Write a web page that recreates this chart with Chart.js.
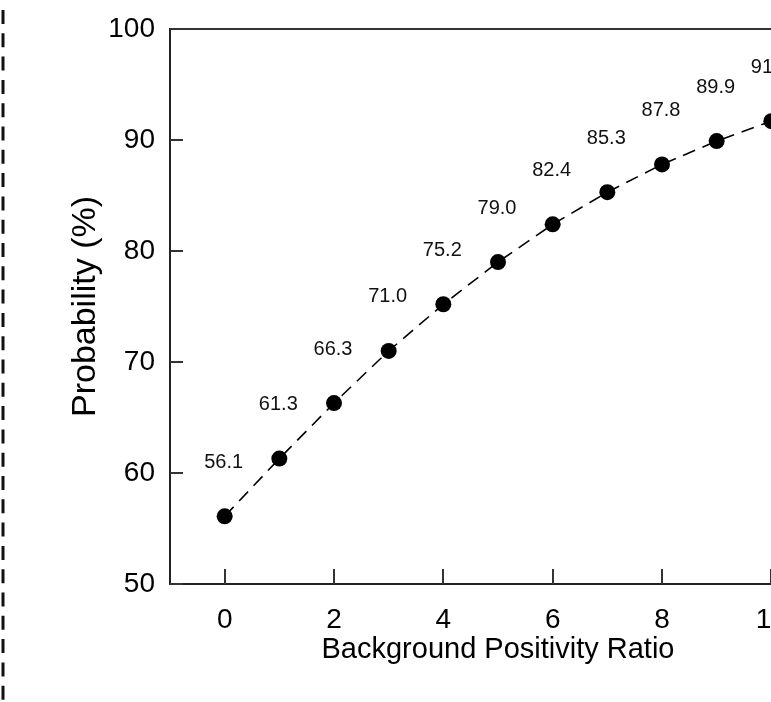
<!DOCTYPE html>
<html>
<head>
<meta charset="utf-8">
<script src="https://cdn.jsdelivr.net/npm/chart.js@4.4.0/dist/chart.umd.min.js"></script>
<style>
  html, body { margin: 0; padding: 0; background: #fff; overflow: hidden; }
  #wrap { position: absolute; left: 0; top: 0; width: 860px; height: 702px; }
</style>
</head>
<body>
<div id="wrap"><canvas id="c" width="860" height="702"></canvas></div>
<script>
const ratios = [0, 1, 2, 3, 4, 5, 6, 7, 8, 9, 10];
const probability = [56.1, 61.3, 66.3, 71.0, 75.2, 79.0, 82.4, 85.3, 87.8, 89.9, 91.7];
const xTickValues = [0, 2, 4, 6, 8, 10];
const yTickValues = [50, 60, 70, 80, 90, 100];
const xTitle = 'Background Positivity Ratio';
const yTitle = 'Probability (%)';

const FONT = '"Liberation Sans", Arial, sans-serif';

const decorPlugin = {
  id: 'decor',
  afterDraw(chart) {
    const ctx = chart.ctx;
    const a = chart.chartArea;
    const xs = chart.scales.x, ys = chart.scales.y;
    ctx.save();
    // frame top and right
    ctx.strokeStyle = '#333';
    ctx.lineWidth = 2;
    ctx.beginPath();
    ctx.moveTo(a.left, a.top);
    ctx.lineTo(a.right, a.top);
    ctx.lineTo(a.right, a.bottom);
    ctx.stroke();
    // inward ticks
    ctx.lineWidth = 2;
    ctx.beginPath();
    xTickValues.forEach(v => {
      const px = Math.round(xs.getPixelForValue(v));
      ctx.moveTo(px, a.bottom);
      ctx.lineTo(px, a.bottom - 15);
    });
    yTickValues.forEach(v => {
      const py = Math.round(ys.getPixelForValue(v));
      ctx.moveTo(a.left, py);
      ctx.lineTo(a.left + 13, py);
    });
    ctx.stroke();
    // data labels
    ctx.fillStyle = '#111';
    ctx.font = '20px ' + FONT;
    ctx.textAlign = 'center';
    ctx.textBaseline = 'middle';
    const meta = chart.getDatasetMeta(0);
    meta.data.forEach((pt, i) => {
      ctx.fillText(probability[i].toFixed(1), pt.x - 1, pt.y - 54);
    });
    // dashed left border
    ctx.strokeStyle = '#111';
    ctx.lineWidth = 3;
    ctx.setLineDash([14, 9.3]);
    ctx.beginPath();
    ctx.moveTo(3, 10);
    ctx.lineTo(3, 702);
    ctx.stroke();
    ctx.restore();
  }
};

new Chart(document.getElementById('c'), {
  type: 'line',
  data: {
    datasets: [{
      data: ratios.map((r, i) => ({ x: r, y: probability[i] })),
      borderColor: '#000',
      borderWidth: 1.6,
      borderDash: [13, 8],
      backgroundColor: '#000',
      pointBackgroundColor: '#000',
      pointBorderColor: '#000',
      pointRadius: 8,
      pointBorderWidth: 0,
      tension: 0,
      fill: false,
      clip: false
    }]
  },
  options: {
    responsive: false,
    devicePixelRatio: 1,
    animation: false,
    layout: { padding: { top: 29, right: 34, left: 0, bottom: 0 } },
    plugins: { legend: { display: false }, tooltip: { enabled: false } },
    scales: {
      x: {
        type: 'linear',
        min: -1,
        max: 11,
        afterBuildTicks(scale) { scale.ticks = xTickValues.map(v => ({ value: v })); },
        afterFit(scale) { scale.height = 118; scale.paddingLeft = 0; scale.paddingRight = 0; },
        grid: { display: false, drawTicks: false },
        border: { display: true, color: '#222', width: 2 },
        ticks: {
          color: '#000',
          font: { family: FONT, size: 28 },
          padding: 19,
          maxRotation: 0,
          autoSkip: false
        },
        title: {
          display: true,
          text: xTitle,
          color: '#000',
          font: { family: FONT, size: 29 },
          padding: { top: 0, bottom: 35 }
        }
      },
      y: {
        type: 'linear',
        min: 50,
        max: 100,
        afterBuildTicks(scale) { scale.ticks = yTickValues.map(v => ({ value: v })); },
        afterFit(scale) { scale.width = 170; scale.paddingTop = 0; scale.paddingBottom = 0; },
        grid: { display: false, drawTicks: false },
        border: { display: true, color: '#222', width: 2 },
        ticks: {
          color: '#000',
          font: { family: FONT, size: 28 },
          padding: 15,
          autoSkip: false
        },
        title: {
          display: true,
          text: yTitle,
          color: '#000',
          font: { family: FONT, size: 34 },
          padding: { top: 65, bottom: 0 }
        }
      }
    }
  },
  plugins: [decorPlugin]
});
</script>
</body>
</html>
